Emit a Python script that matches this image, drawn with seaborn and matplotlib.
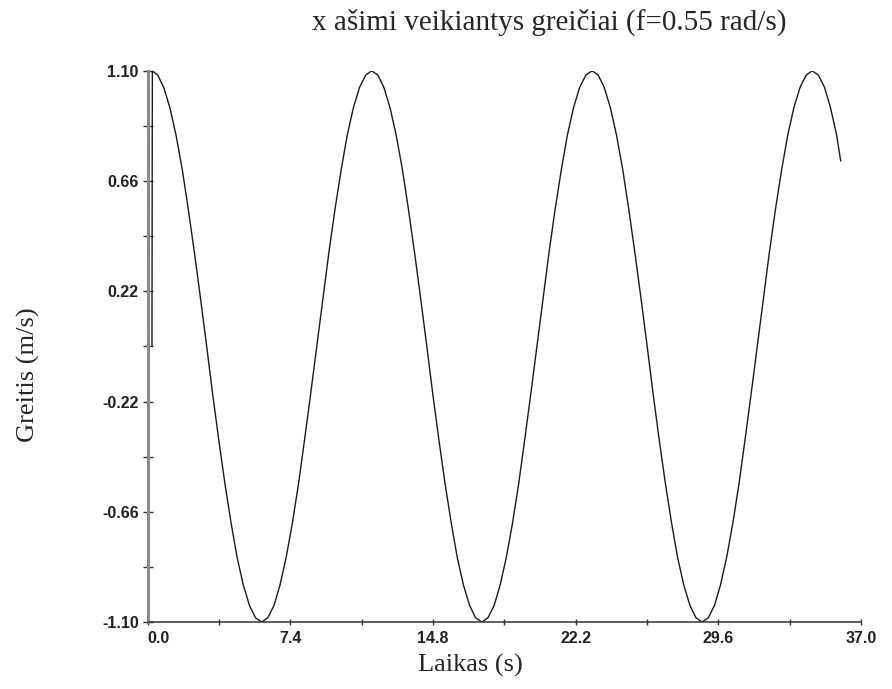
import matplotlib
matplotlib.use("Agg")
import matplotlib.pyplot as plt
import matplotlib.transforms as mtransforms
import seaborn as sns

# values (time in s, speed in m/s)
laikas = [0.22,
          0.24, 0.52, 0.83, 1.15, 1.47, 1.79, 2.10, 2.42, 2.74, 3.06, 3.37, 3.69,
          4.01, 4.33, 4.64, 4.96, 5.28, 5.59, 5.91, 6.23, 6.55, 6.86, 7.18, 7.50,
          7.82, 8.13, 8.45, 8.77, 9.09, 9.40, 9.72, 10.04, 10.35, 10.67, 10.99, 11.31,
          11.62, 11.94, 12.25, 12.57, 12.89, 13.21, 13.52, 13.84, 14.16, 14.48, 14.79, 15.11,
          15.43, 15.75, 16.06, 16.38, 16.70, 17.01, 17.33, 17.65, 17.97, 18.28, 18.60, 18.92,
          19.24, 19.55, 19.87, 20.19, 20.51, 20.82, 21.14, 21.46, 21.77, 22.09, 22.41, 22.73,
          23.05, 23.37, 23.68, 24.00, 24.32, 24.64, 24.95, 25.27, 25.59, 25.91, 26.22, 26.54,
          26.86, 27.18, 27.49, 27.81, 28.13, 28.44, 28.76, 29.08, 29.40, 29.71, 30.03, 30.35,
          30.67, 30.98, 31.30, 31.62, 31.94, 32.25, 32.57, 32.89, 33.20, 33.52, 33.84, 34.16,
          34.47, 34.79, 35.11, 35.42, 35.74, 35.95]
greitis = [0.000,
           1.100, 1.083, 1.034, 0.953, 0.843, 0.707, 0.550, 0.376, 0.191, 0.000, -0.191, -0.376,
           -0.550, -0.707, -0.843, -0.953, -1.034, -1.083, -1.100, -1.083, -1.034, -0.953, -0.843, -0.707,
           -0.550, -0.376, -0.191, 0.000, 0.191, 0.376, 0.550, 0.707, 0.843, 0.953, 1.034, 1.083,
           1.100, 1.083, 1.034, 0.953, 0.843, 0.707, 0.550, 0.376, 0.191, 0.000, -0.191, -0.376,
           -0.550, -0.707, -0.843, -0.953, -1.034, -1.083, -1.100, -1.083, -1.034, -0.953, -0.843, -0.707,
           -0.550, -0.376, -0.191, 0.000, 0.191, 0.376, 0.550, 0.707, 0.843, 0.953, 1.034, 1.083,
           1.100, 1.083, 1.034, 0.953, 0.843, 0.707, 0.550, 0.376, 0.191, 0.000, -0.191, -0.376,
           -0.550, -0.707, -0.843, -0.953, -1.034, -1.083, -1.100, -1.083, -1.034, -0.953, -0.843, -0.707,
           -0.550, -0.376, -0.191, 0.000, 0.191, 0.376, 0.550, 0.707, 0.843, 0.953, 1.034, 1.083,
           1.100, 1.083, 1.034, 0.953, 0.843, 0.740]

x_ticks = [0.0, 7.4, 14.8, 22.2, 29.6, 37.0]
x_minor = [3.7, 11.1, 18.5, 25.9, 33.3]
y_ticks = [-1.10, -0.66, -0.22, 0.22, 0.66, 1.10]
y_minor = [-0.88, -0.44, 0.0, 0.44, 0.88]

sns.set_style("white")

fig = plt.figure(figsize=(8.92, 6.89), dpi=100)
ax = fig.add_axes([0.1656, 0.0972, 0.7996, 0.80])

sns.lineplot(x=laikas, y=greitis, sort=False, estimator=None,
             color="#1a1a1a", linewidth=1.0, ax=ax)

ax.set_xlim(0, 37.0)
ax.set_ylim(-1.10, 1.10)

ax.set_xticks(x_ticks)
ax.set_xticklabels([f"{v:.1f}" for v in x_ticks])
ax.set_xticks(x_minor, minor=True)
ax.set_yticks(y_ticks)
ax.set_yticklabels([f"{v:.2f}" for v in y_ticks])
ax.set_yticks(y_minor, minor=True)

for lab in ax.get_xticklabels() + ax.get_yticklabels():
    lab.set_fontfamily("Liberation Sans")
    lab.set_fontweight("bold")
    lab.set_fontsize(11.5)
    lab.set_color("#222222")

# first x label sits to the right of the axis line
first = ax.get_xticklabels()[0]
first.set_horizontalalignment("left")
first.set_transform(first.get_transform()
                    + mtransforms.ScaledTranslation(3 / 72, 0, fig.dpi_scale_trans))

ax.tick_params(axis="y", which="both", direction="inout", length=7,
               width=1.0, color="#333333", pad=3, left=True)
ax.tick_params(axis="x", which="both", direction="inout", length=5,
               width=1.0, color="#333333", pad=4, bottom=True)

sns.despine(ax=ax)
ax.spines["left"].set_color("#8a8a8a")
ax.spines["left"].set_linewidth(2.2)
ax.spines["bottom"].set_color("#333333")
ax.spines["bottom"].set_linewidth(1.1)

fig.text(549 / 892, 1 - 22 / 689, "x ašimi veikiantys greičiai (f=0.55 rad/s)",
         family="Liberation Serif", fontsize=21, ha="center", va="center")
fig.text(470 / 892, 1 - 665 / 689, "Laikas (s)",
         family="Liberation Serif", fontsize=19, ha="center", va="center")
fig.text(28 / 892, 1 - 375 / 689, "Greitis (m/s)",
         family="Liberation Serif", fontsize=19, ha="center", va="center",
         rotation=90)

fig.savefig("out.png", dpi=100)
